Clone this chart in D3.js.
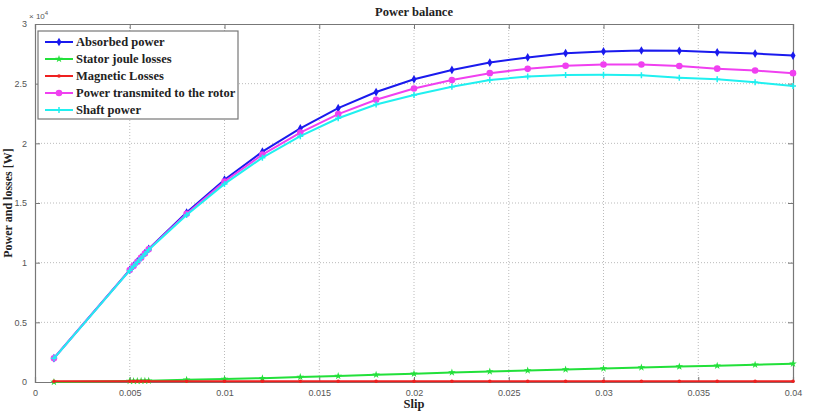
<!DOCTYPE html>
<html>
<head>
<meta charset="utf-8">
<script src="https://cdn.jsdelivr.net/npm/d3@7"></script>
<style>
  body { margin: 0; background: #fff; }
  svg { display: block; }
  .tick text { font-family: "Liberation Sans", Arial, sans-serif; font-size: 9px; fill: #555; }
  .lbl { font-family: "Liberation Serif", "Times New Roman", serif; font-weight: bold; fill: #222; }
</style>
</head>
<body>
<svg id="chart"></svg>
<script>
////////////////////////////
//  data
////////////////////////////
var slip = [0.001, 0.005, 0.0052, 0.0054, 0.0056, 0.0058, 0.006, 0.008, 0.01, 0.012, 0.014, 0.016,
            0.018, 0.02, 0.022, 0.024, 0.026, 0.028, 0.03, 0.032, 0.034, 0.036, 0.038, 0.04];

var absorbed = [2000, 9400, 9750, 10100, 10450, 10800, 11150, 14200, 16950, 19300, 21250, 22950,
                24300, 25370, 26150, 26770, 27200, 27550, 27700, 27780, 27750, 27630, 27520, 27350];
var statorLoss = [5, 80, 85, 90, 95, 100, 110, 180, 250, 320, 420, 510,
                  600, 700, 790, 880, 970, 1050, 1130, 1210, 1290, 1370, 1450, 1530];
var magneticLoss = [55, 58, 58, 58, 58, 58, 58, 60, 60, 60, 60, 60,
                    60, 60, 60, 60, 60, 60, 60, 60, 60, 60, 60, 60];
var rotorPower = [1990, 9380, 9730, 10080, 10420, 10770, 11120, 14100, 16800, 19050, 20900, 22450,
                  23650, 24600, 25300, 25880, 26240, 26500, 26600, 26600, 26480, 26260, 26100, 25880];
var shaftPower = [1980, 9350, 9700, 10040, 10380, 10730, 11080, 14000, 16600, 18800, 20600, 22100,
                  23250, 24050, 24750, 25300, 25600, 25730, 25750, 25700, 25500, 25370, 25120, 24800];

var xTicks = [0, 0.005, 0.01, 0.015, 0.02, 0.025, 0.03, 0.035, 0.04];
var yTicks = [0, 5000, 10000, 15000, 20000, 25000, 30000];

var seriesNames = ['Absorbed power', 'Stator joule losses', 'Magnetic Losses',
                   'Power transmited to the rotor', 'Shaft power'];
var seriesValues = [absorbed, statorLoss, magneticLoss, rotorPower, shaftPower];
var seriesColors = ['#1a1aee', '#22e03a', '#ee2020', '#f040f0', '#20f0f0'];
var seriesMarkers = ['dot', 'star', 'small', 'circle', 'plus'];

///////////////////
// layout
///////////////////
var width = 815, height = 416;
var margin = {left: 35, right: 22, top: 24, bottom: 34};

var svg = d3.select('#chart')
    .attr('width', width)
    .attr('height', height);

var xScale = d3.scaleLinear()
    .domain([0, 0.04])
    .range([margin.left, width - margin.right]);

var yScale = d3.scaleLinear()
    .domain([0, 30000])
    .range([height - margin.bottom, margin.top]);

// grid
svg.append('g')
  .selectAll('line')
  .data(xTicks.slice(1, -1))
  .enter()
  .append('line')
    .attr('x1', d => xScale(d)).attr('x2', d => xScale(d))
    .attr('y1', yScale(0)).attr('y2', yScale(30000))
    .attr('stroke', '#bbb').attr('stroke-dasharray', '1,2');

svg.append('g')
  .selectAll('line')
  .data(yTicks.slice(1, -1))
  .enter()
  .append('line')
    .attr('x1', xScale(0)).attr('x2', xScale(0.04))
    .attr('y1', d => yScale(d)).attr('y2', d => yScale(d))
    .attr('stroke', '#bbb').attr('stroke-dasharray', '1,2');

// axes
var fmtX = d => d === 0 ? '0' : d3.format('')(+d.toFixed(3));
var fmtY = d => d3.format('')(d / 10000);

svg.append('g')
    .attr('transform', `translate(0,${yScale(0)})`)
    .call(d3.axisBottom(xScale).tickValues(xTicks).tickSize(-5).tickPadding(8).tickFormat(fmtX));
svg.append('g')
    .attr('transform', `translate(0,${yScale(30000)})`)
    .call(d3.axisTop(xScale).tickValues(xTicks).tickSize(-5).tickFormat(''));
svg.append('g')
    .attr('transform', `translate(${xScale(0)},0)`)
    .call(d3.axisLeft(yScale).tickValues(yTicks).tickSize(-5).tickPadding(8).tickFormat(fmtY));
svg.append('g')
    .attr('transform', `translate(${xScale(0.04)},0)`)
    .call(d3.axisRight(yScale).tickValues(yTicks).tickSize(-5).tickFormat(''));

svg.selectAll('.domain').attr('stroke', '#777').attr('stroke-width', 1.2);
svg.selectAll('.tick line').attr('stroke', '#777');

// lines
var line = d3.line()
    .x((d, i) => xScale(slip[i]))
    .y(d => yScale(d));

function drawMarker(g, kind, color, x, y) {
  if (kind === 'dot') {
    g.append('path').attr('d', d3.symbol(d3.symbolDiamond, 22)()).attr('transform', `translate(${x},${y})`).attr('fill', color);
  } else if (kind === 'small') {
    g.append('circle').attr('cx', x).attr('cy', y).attr('r', 1.8).attr('fill', color);
  } else if (kind === 'circle') {
    g.append('circle').attr('cx', x).attr('cy', y).attr('r', 3.3).attr('fill', color);
  } else if (kind === 'star') {
    g.append('path').attr('d', d3.symbol(d3.symbolStar, 18)()).attr('transform', `translate(${x},${y})`).attr('fill', color);
  } else if (kind === 'plus') {
    g.append('path').attr('d', `M${x-3},${y}H${x+3}M${x},${y-3}V${y+3}`)
      .attr('stroke', color).attr('stroke-width', 1.5);
  }
}

seriesValues.forEach((vals, s) => {
  var g = svg.append('g');
  g.append('path')
    .datum(vals)
    .attr('d', line)
    .attr('fill', 'none')
    .attr('stroke', seriesColors[s])
    .attr('stroke-width', 2);
  vals.forEach((v, i) => drawMarker(g, seriesMarkers[s], seriesColors[s], xScale(slip[i]), yScale(v)));
});

// labels
svg.append('text').attr('class', 'lbl')
    .attr('x', (xScale(0) + xScale(0.04)) / 2).attr('y', 16)
    .attr('text-anchor', 'middle').attr('font-size', 12.5)
    .text('Power balance');
svg.append('text').attr('class', 'lbl')
    .attr('x', (xScale(0) + xScale(0.04)) / 2).attr('y', 408)
    .attr('text-anchor', 'middle').attr('font-size', 12.5)
    .text('Slip');
svg.append('text').attr('class', 'lbl')
    .attr('transform', `translate(12,${(yScale(0) + yScale(30000)) / 2}) rotate(-90)`)
    .attr('text-anchor', 'middle').attr('font-size', 12)
    .text('Power and losses [W]');

var expo = svg.append('text')
    .attr('x', 29).attr('y', 19)
    .attr('font-family', 'Liberation Sans, Arial, sans-serif')
    .attr('font-size', 8).attr('fill', '#555');
expo.append('tspan').text('\u00d7 10');
expo.append('tspan').attr('dy', -4).attr('font-size', 6).text('4');

// legend
var legend = svg.append('g').attr('transform', 'translate(38,31)');
legend.append('rect')
    .attr('width', 200).attr('height', 88)
    .attr('fill', '#fff').attr('stroke', '#777').attr('stroke-width', 1.2);
seriesNames.forEach((name, s) => {
  var y = 11 + s * 17;
  legend.append('line')
    .attr('x1', 7).attr('x2', 35).attr('y1', y).attr('y2', y)
    .attr('stroke', seriesColors[s]).attr('stroke-width', 2);
  drawMarker(legend, seriesMarkers[s], seriesColors[s], 21, y);
  legend.append('text').attr('class', 'lbl')
    .attr('x', 38).attr('y', y + 4)
    .attr('font-size', 12.5)
    .text(name);
});
</script>
</body>
</html>
